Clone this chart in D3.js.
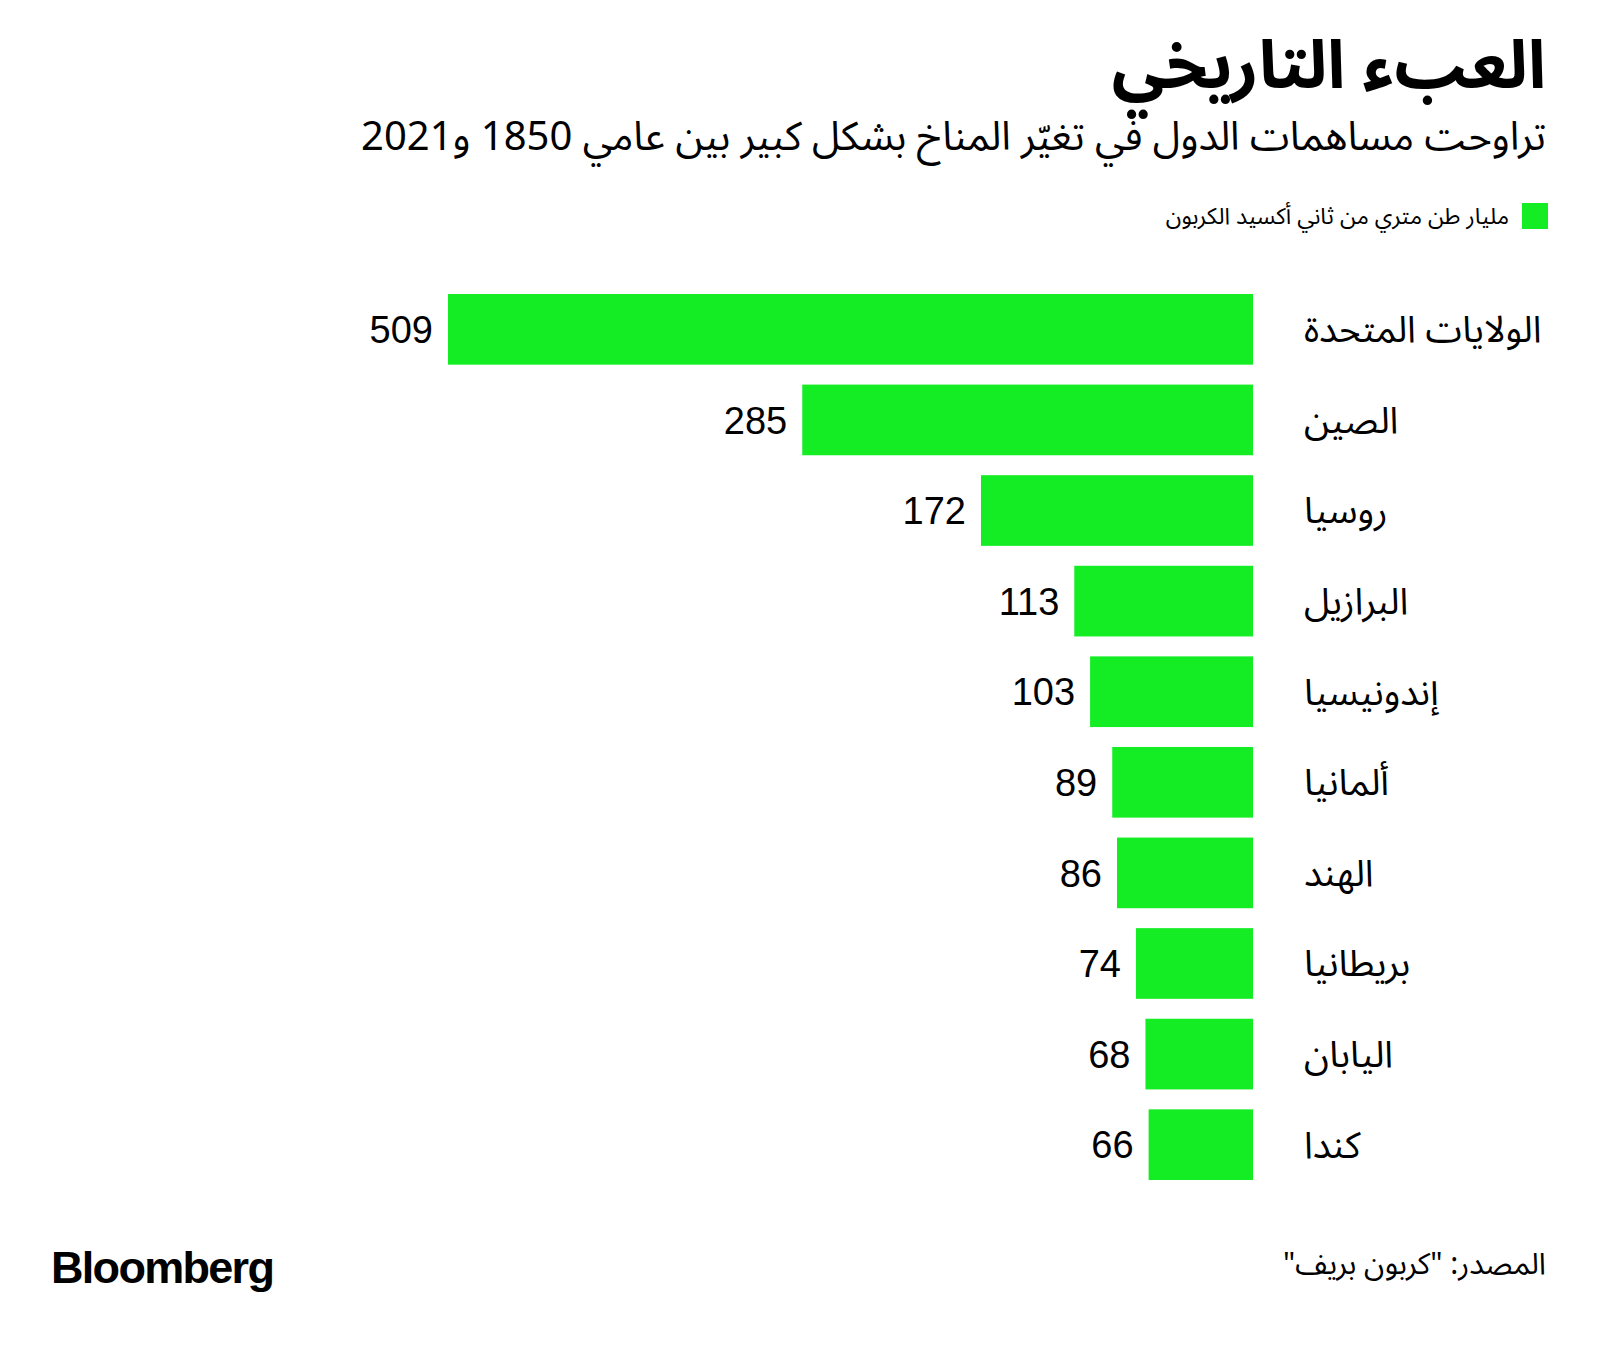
<!DOCTYPE html>
<html lang="ar">
<head>
<meta charset="utf-8">
<script src="https://cdn.jsdelivr.net/npm/d3@7"></script>
<style>
  html, body { margin: 0; padding: 0; background: #ffffff; }
  svg { display: block; }
  .ar { font-family: "Noto Sans Arabic", "Noto Sans", "DejaVu Sans", sans-serif; }
</style>
</head>
<body>
<svg id="chart" width="1600" height="1345"></svg>
<script>
const countries = ["الولايات المتحدة","الصين","روسيا","البرازيل","إندونيسيا","ألمانيا","الهند","بريطانيا","اليابان","كندا"];
const values = [509, 285, 172, 113, 103, 89, 86, 74, 68, 66];
const titleText = "العبء التاريخي";
const subtitleText = "تراوحت مساهمات الدول في تغيّر المناخ بشكل كبير بين عامي 1850 و2021";
const legendText = "مليار طن متري من ثاني أكسيد الكربون";
const sourceText = "المصدر: \"كربون بريف\"";

const svg = d3.select("#chart");
const green = "#14ec24";

// Title
svg.append("text").attr("class","ar")
  .attr("x", 1546).attr("y", 88)
  .attr("direction","rtl").attr("text-anchor","start")
  .style("font-size","67px").style("font-weight","700").attr("fill","#000")
  .text(titleText);

svg.append("text").attr("class","ar")
  .attr("x", 1546).attr("y", 150)
  .attr("direction","rtl").attr("text-anchor","start")
  .style("font-size","40px").attr("fill","#000")
  .text(subtitleText);

// Legend
svg.append("rect").attr("x",1522).attr("y",203).attr("width",26).attr("height",26).attr("fill",green);
svg.append("text").attr("class","ar")
  .attr("x", 1509).attr("y", 224)
  .attr("direction","rtl").attr("text-anchor","start")
  .style("font-size","23px").attr("fill","#000")
  .text(legendText);

// Scales
const barRight = 1253;
const x = d3.scaleLinear().domain([0, 509]).range([0, 805]);
const y = d3.scaleBand().domain(countries).range([294, 1180]).paddingInner(0.22).paddingOuter(0);

const data = countries.map((c,i)=>({c, v: values[i]}));

svg.append("g").selectAll("rect").data(data).join("rect")
  .attr("x", d => barRight - x(d.v))
  .attr("y", d => y(d.c))
  .attr("width", d => x(d.v))
  .attr("height", y.bandwidth())
  .attr("fill", green);

svg.append("g").selectAll("text").data(data).join("text")
  .attr("x", d => barRight - x(d.v) - 15)
  .attr("y", d => y(d.c) + y.bandwidth()/2)
  .attr("dy","0.36em")
  .attr("text-anchor","end")
  .style("font-family","'Liberation Sans', Arial, sans-serif")
  .style("font-size","38px").attr("fill","#000")
  .text(d => d.v);

svg.append("g").selectAll("text").data(data).join("text")
  .attr("class","ar")
  .attr("x", 1304)
  .attr("y", d => y(d.c) + y.bandwidth()/2)
  .attr("dy","0.35em")
  .attr("direction","rtl").attr("text-anchor","end")
  .style("font-size","37px").attr("fill","#000")
  .text(d => d.c);

// Footer
svg.append("text")
  .attr("x", 51).attr("y", 1283)
  .style("font-family","'Liberation Sans', Arial, sans-serif")
  .style("font-size","45px").style("font-weight","700").style("letter-spacing","-1.7px")
  .attr("fill","#000")
  .text("Bloomberg");

svg.append("text").attr("class","ar")
  .attr("x", 1546).attr("y", 1274)
  .attr("direction","rtl").attr("text-anchor","start")
  .style("font-size","30px").attr("fill","#000")
  .text(sourceText);
</script>
</body>
</html>
